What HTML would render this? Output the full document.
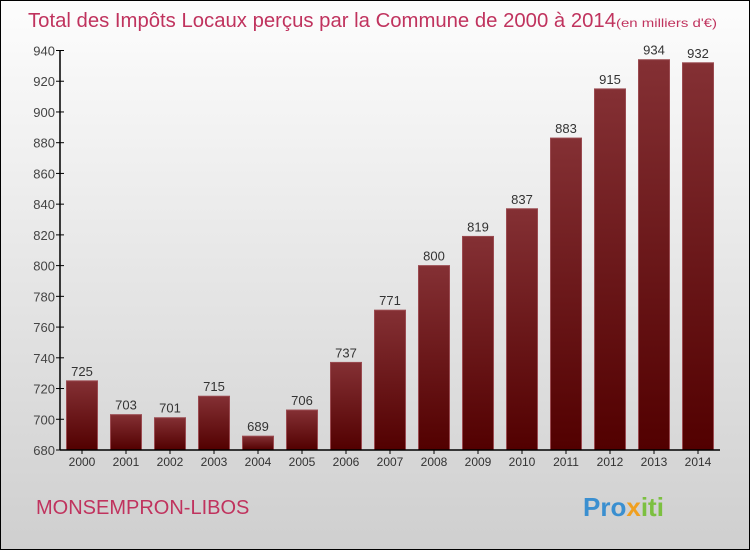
<!DOCTYPE html>
<html><head><meta charset="utf-8"><style>
body{margin:0;}
svg{display:block;font-family:"Liberation Sans",sans-serif;}
</style></head><body>
<svg id="c" width="750" height="550">
<defs>
<linearGradient id="bg" x1="0" y1="0" x2="0" y2="1"><stop offset="0" stop-color="#fdfdfd"/><stop offset="1" stop-color="#cfcfcf"/></linearGradient>
<linearGradient id="bar" x1="0" y1="0" x2="0" y2="1"><stop offset="0" stop-color="#843034"/><stop offset="1" stop-color="#520000"/></linearGradient>
</defs>
<rect x="0.5" y="0.5" width="749" height="549" fill="url(#bg)" stroke="#000"/>
<text x="28" y="27" font-size="20" textLength="588" lengthAdjust="spacingAndGlyphs" fill="#c0335e">Total des Impôts Locaux perçus par la Commune de 2000 à 2014</text>
<text x="616" y="27" font-size="12" textLength="101" lengthAdjust="spacingAndGlyphs" fill="#c0335e">(en milliers d'€)</text>
<g id="plot"></g>
<text x="36" y="514" font-size="20" fill="#c0335e">MONSEMPRON-LIBOS</text>
<text x="583" y="516" font-size="26" font-weight="bold" fill="#3a8fd0">Pro<tspan fill="#f0a020">x</tspan><tspan fill="#7cc040">iti</tspan></text>
</svg>
<script>
const years=["2000","2001","2002","2003","2004","2005","2006","2007","2008","2009","2010","2011","2012","2013","2014"];
const values=[725,703,701,715,689,706,737,771,800,819,837,883,915,934,932];
const ticks=[680,700,720,740,760,780,800,820,840,860,880,900,920,940];
const NS="http://www.w3.org/2000/svg";
const g=document.getElementById('plot');
const x0=60,x1=720,yTop=50.5,yBot=450,vMin=680,vMax=940;
const slot=(x1-x0)/years.length;
function y(v){return yBot-(v-vMin)*(yBot-yTop)/(vMax-vMin);}
function xc(i){return x0+slot*(i+0.5);}
function mk(t,a){const e=document.createElementNS(NS,t);for(const k in a)e.setAttribute(k,a[k]);g.appendChild(e);return e;}
ticks.forEach(t=>{
 const l=mk('line',{x1:x0-4,x2:x0+4,y1:y(t),y2:y(t),stroke:'#000'});
 
 
 const tx=mk('text',{x:x0-5,y:y(t)+5,'text-anchor':'end','font-size':13,fill:'#444'});
 tx.textContent=t;
 
 
});
values.forEach((v,i)=>{
 const r=mk('rect',{x:xc(i)-15.5,y:y(v),width:31,height:yBot-y(v),fill:'url(#bar)',stroke:'#9a4a50','stroke-width':1});
 
 
 const t=mk('text',{x:xc(i),y:y(v)-5,'text-anchor':'middle','font-size':13,fill:'#333'});
 t.textContent=v;
 
 
 const k=mk('line',{x1:xc(i),x2:xc(i),y1:yBot,y2:yBot+4,stroke:'#000'});
 
 
 const xl=mk('text',{x:xc(i),y:yBot+16,'text-anchor':'middle','font-size':12,fill:'#333'});
 xl.textContent=years[i];
 
 
});
const ya=mk('line',{x1:x0,x2:x0,y1:yTop,y2:yBot,stroke:'#000','stroke-width':1.5});


const xa=mk('line',{x1:x0,x2:x1,y1:yBot,y2:yBot,stroke:'#000','stroke-width':1.5});


</script>
</body></html>
